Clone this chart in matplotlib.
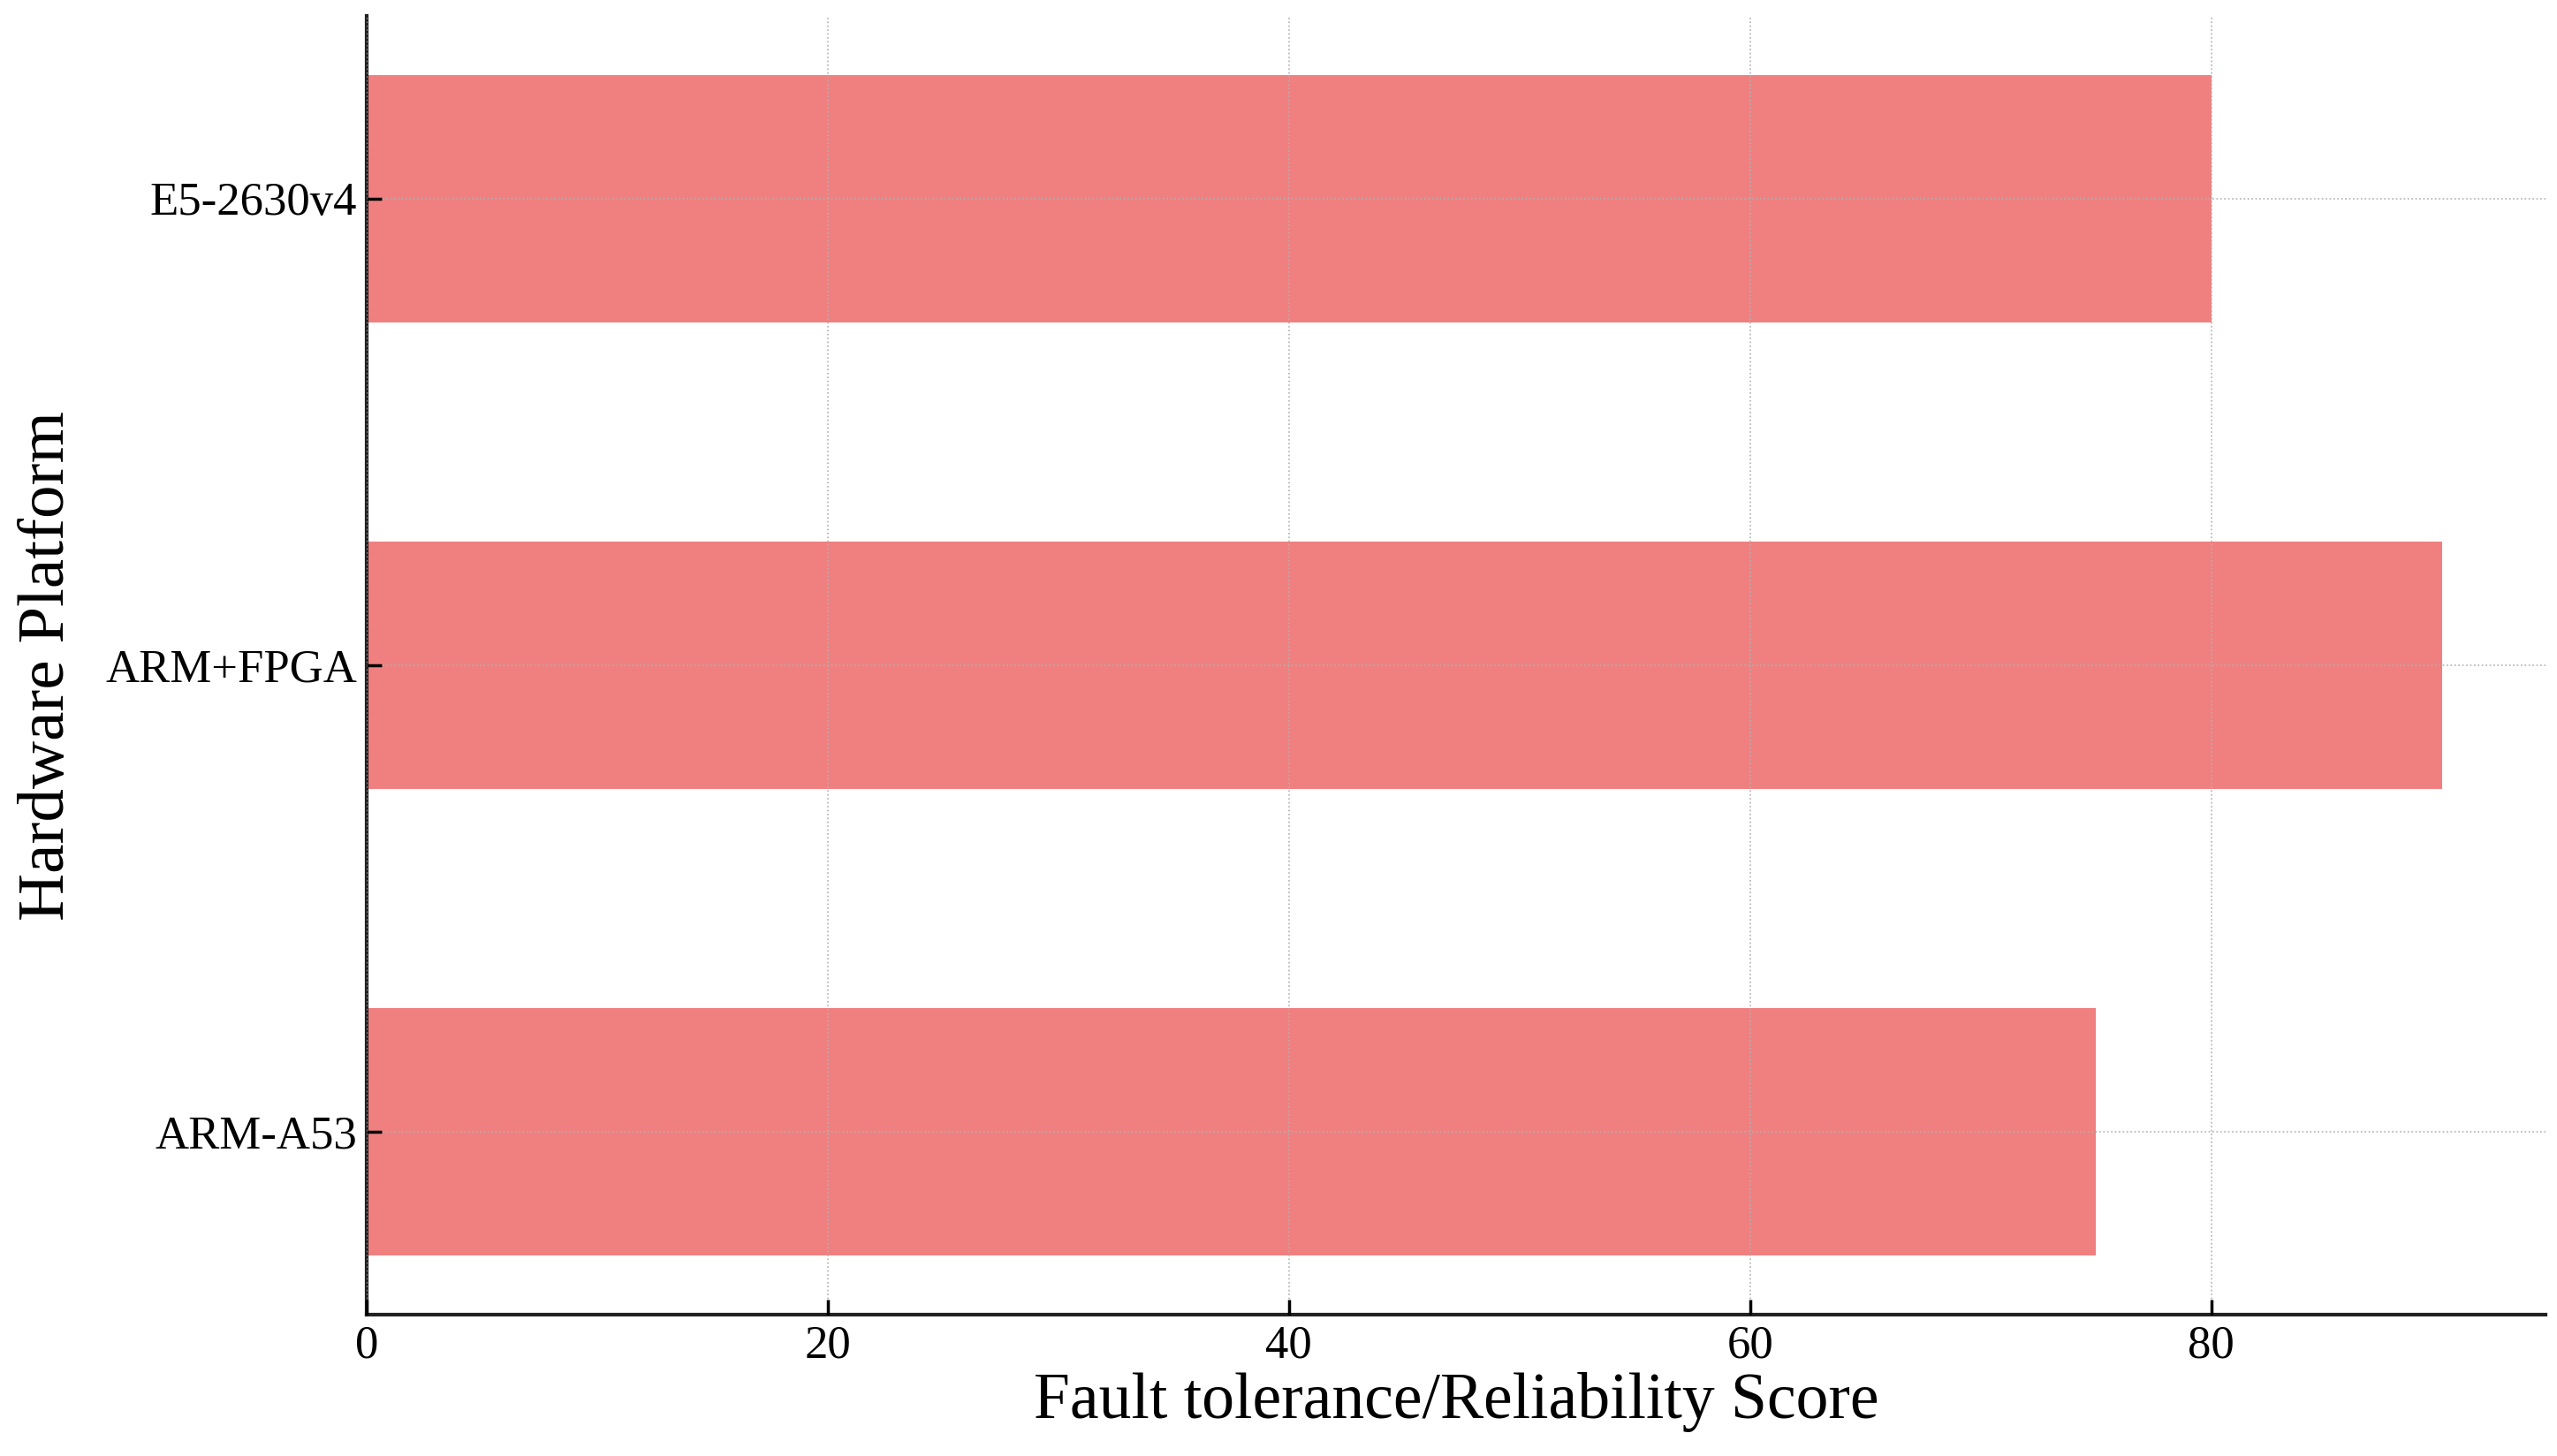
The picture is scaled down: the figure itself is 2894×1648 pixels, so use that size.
import matplotlib.pyplot as plt

platforms = ['ARM-A53', 'ARM+FPGA', 'E5-2630v4']
scores = [75, 90, 80]
bar_color = '#F08080'

plt.rcParams['font.family'] = ['Liberation Serif', 'DejaVu Serif']

fig, ax = plt.subplots(figsize=(28.94, 16.48), dpi=100)
fig.subplots_adjust(left=0.1434, right=0.9955, bottom=0.097, top=0.989)

ax.barh(platforms, scores, height=0.53, color=bar_color, zorder=1)

ax.grid(True, linestyle=':', color='#b0b0b0', linewidth=1.2, zorder=2)
ax.set_axisbelow(False)

for side in ['top', 'right']:
    ax.spines[side].set_visible(False)
for side in ['left', 'bottom']:
    ax.spines[side].set_linewidth(3)
    ax.spines[side].set_color('#222222')

ax.tick_params(direction='in', length=12, width=2.5, labelsize=38, pad=8)
ax.set_xlabel('Fault tolerance/Reliability Score', fontsize=53, labelpad=4)
ax.set_ylabel('Hardware Platform', fontsize=54, labelpad=22)

fig.savefig('out.png')
